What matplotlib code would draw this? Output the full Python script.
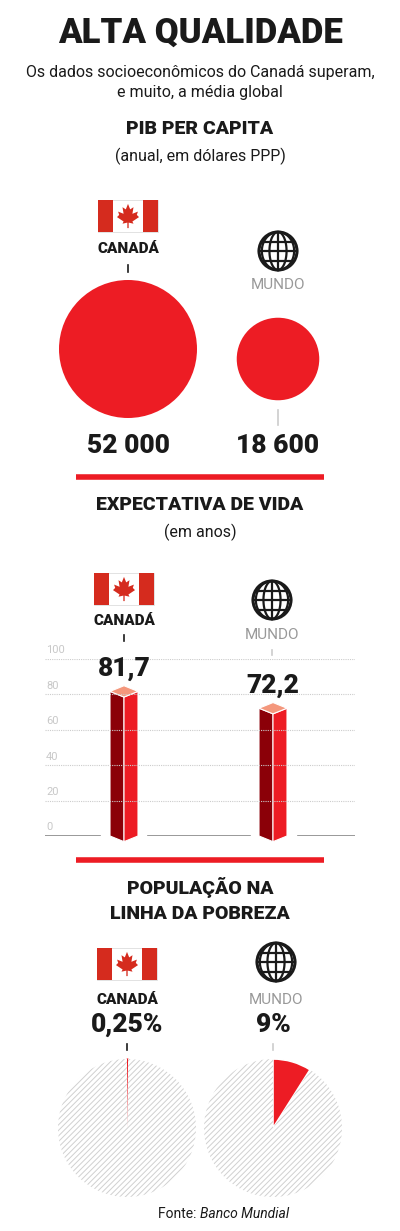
import numpy as np
import matplotlib.pyplot as plt
from matplotlib.patches import Circle, Polygon, Rectangle

# data
groups = ["CANADÁ", "MUNDO"]
pib = [52000, 18600]
pib_labels = ["52 000", "18 600"]
vida = [81.7, 72.2]
vida_labels = ["81,7", "72,2"]
pobreza = [0.25, 9]
pobreza_labels = ["0,25%", "9%"]
y_ticks = [0, 20, 40, 60, 80, 100]

RED = "#ed1c24"
DARK = "#8b0008"
TOP = "#f4977c"
GREY = "#999999"
BLACK = "#1a1a1a"
FAM = ["Roboto", "DejaVu Sans"]
plt.rcParams["hatch.linewidth"] = 0.7

W, H = 400, 1231
fig = plt.figure(figsize=(W / 100, H / 100), dpi=100)
bg = fig.add_axes([0, 0, 1, 1])
bg.set_xlim(0, W)
bg.set_ylim(H, 0)
bg.axis("off")


def px_axes(x0, y0, x1, y1):
    return fig.add_axes([x0 / W, 1 - y1 / H, (x1 - x0) / W, (y1 - y0) / H])


def flag(x, y, w=60, h=32):
    bg.add_patch(Rectangle((x, y), w, h, fc="white", ec="#dddddd", lw=0.6))
    bg.add_patch(Rectangle((x, y), w / 4, h, fc="#d52b1e", ec="none"))
    bg.add_patch(Rectangle((x + 3 * w / 4, y), w / 4, h, fc="#d52b1e", ec="none"))
    cx, cy = x + w / 2, y + h / 2
    leaf = [(0, -11), (2, -6), (5, -8), (4, -2), (9, -4), (8, -1), (10, 1), (4, 5),
            (5, 7), (0.6, 6), (0.6, 11), (-0.6, 11), (-0.6, 6), (-5, 7), (-4, 5),
            (-10, 1), (-8, -1), (-9, -4), (-4, -2), (-5, -8), (-2, -6)]
    bg.add_patch(Polygon([(cx + a * 1.1, cy + b * 1.1) for a, b in leaf], fc="#d52b1e", ec="none"))


def globe(cx, cy, r=19):
    bg.add_patch(Circle((cx, cy), r, fc="none", ec=BLACK, lw=2.2))
    t = np.linspace(0, 2 * np.pi, 100)
    for k in [0.45, 0.85]:
        bg.plot(cx + r * k * np.sin(t), cy + r * np.cos(t), color=BLACK, lw=1.6)
    bg.plot([cx, cx], [cy - r, cy + r], color=BLACK, lw=1.6)
    for f in [-0.5, 0, 0.5]:
        half = r * np.sqrt(1 - f ** 2)
        bg.plot([cx - half, cx + half], [cy + f * r, cy + f * r], color=BLACK, lw=1.6)


def text(x, y, s, size, weight="normal", color=BLACK, **kw):
    bg.text(x, y, s, fontsize=size, fontweight=weight, color=color,
            family=FAM, ha="center", va="center", **kw)


def head(x, y, name):
    if name == "CANADÁ":
        text(x, y, name, 11, weight="black")
    else:
        text(x, y, name, 11, color=GREY)


# header
text(200, 33, "ALTA QUALIDADE", 25, weight="black")
text(200, 72, "Os dados socioeconômicos do Canadá superam,", 11.5)
text(200, 92, "e muito, a média global", 11.5)

# PIB
text(200, 129, "PIB PER CAPITA", 14, weight="black")
text(200, 156, "(anual, em dólares PPP)", 11.5)
flag(98, 200)
globe(278, 251)
head(128, 249, groups[0])
head(278, 285, groups[1])
bg.plot([128, 128], [265, 272], color=BLACK, lw=1.2)
bg.plot([278, 278], [410, 425], color="#cccccc", lw=1.2)
r_max = 69
centers = [(128, 349), (278, 359)]
for (cx, cy), v, lab in zip(centers, pib, pib_labels):
    r = r_max * np.sqrt(v / max(pib))
    bg.add_patch(Circle((cx, cy), r, fc=RED, ec="none"))
    text(cx, 446, lab, 19, weight="black")
bg.plot([76, 324], [477, 477], color=RED, lw=4, solid_capstyle="butt")

# Expectativa de vida
text(200, 505, "EXPECTATIVA DE VIDA", 14, weight="black")
text(200, 532, "(em anos)", 11.5)
flag(94, 573)
globe(272, 600)
head(124, 621, groups[0])
head(272, 635, groups[1])
bg.plot([124, 124], [635, 641], color=BLACK, lw=1.2)
bg.plot([272, 272], [650, 655], color="#cccccc", lw=1.2)

ax = px_axes(45, 659, 355, 836)
ax.set_xlim(45, 355)
ax.set_ylim(0, 100)
ax.axis("off")
for t in y_ticks[1:]:
    ax.plot([45, 355], [t, t], color="#cccccc", lw=0.8, ls=(0, (1, 1)))
for t in y_ticks:
    ax.text(46, t + 2, str(t), fontsize=8, color="#c8c8c8", family=FAM, va="bottom")
for a, b in [(45, 100), (148, 250), (298, 355)]:
    ax.plot([a, b], [0, 0], color="#888888", lw=1.2)
bar_x = [124, 273]
hw, d = 14, 3.2
for c, v, lab in zip(bar_x, vida, vida_labels):
    ax.add_patch(Polygon([(c - hw, v), (c, v - d), (c, -d), (c - hw, 0)], fc=DARK, ec="white", lw=0.8, clip_on=False))
    ax.add_patch(Polygon([(c, v - d), (c + hw, v), (c + hw, 0), (c, -d)], fc=RED, ec="white", lw=0.8, clip_on=False))
    ax.add_patch(Polygon([(c - hw, v), (c, v + d), (c + hw, v), (c, v - d)], fc=TOP, ec="white", lw=0.8, clip_on=False))
    ax.text(c, v + 6, lab, fontsize=19, fontweight="black", color=BLACK, family=FAM,
            ha="center", va="bottom", clip_on=False)
bg.plot([76, 324], [860, 860], color=RED, lw=4, solid_capstyle="butt")

# Pobreza
text(200, 888, "POPULAÇÃO NA", 14, weight="black")
text(200, 914, "LINHA DA POBREZA", 14, weight="black")
flag(97, 948)
globe(276, 962)
head(127, 1000, groups[0])
head(276, 1000, groups[1])
pie_x = [127, 273]
for c, v, lab in zip(pie_x, pobreza, pobreza_labels):
    text(c, 1025, lab, 19, weight="black")
    bg.plot([c, c], [1044, 1050], color=BLACK if v < 1 else "#cccccc", lw=1.2)
    pa = px_axes(c - 69, 1059, c + 69, 1197)
    wedges, _ = pa.pie([v, 100 - v], startangle=90, counterclock=False,
                       colors=[RED, "white"], wedgeprops=dict(ec="white", lw=1.2))
    wedges[1].set_hatch("//////")
    wedges[1].set_edgecolor("#d0d0d0")
    wedges[1].set_linewidth(0)
    if v < 1:
        wedges[0].set_edgecolor(RED)
        wedges[0].set_linewidth(0.8)
    pa.set_xlim(-1, 1)
    pa.set_ylim(-1, 1)
    pa.set_aspect("equal")

bg.text(200, 1214, "Fonte: ", fontsize=10, family=FAM, color=BLACK, ha="right", va="center")
bg.text(200, 1214, "Banco Mundial", fontsize=10, family=FAM, style="italic", color=BLACK, ha="left", va="center")

fig.savefig("out.png", dpi=100)
